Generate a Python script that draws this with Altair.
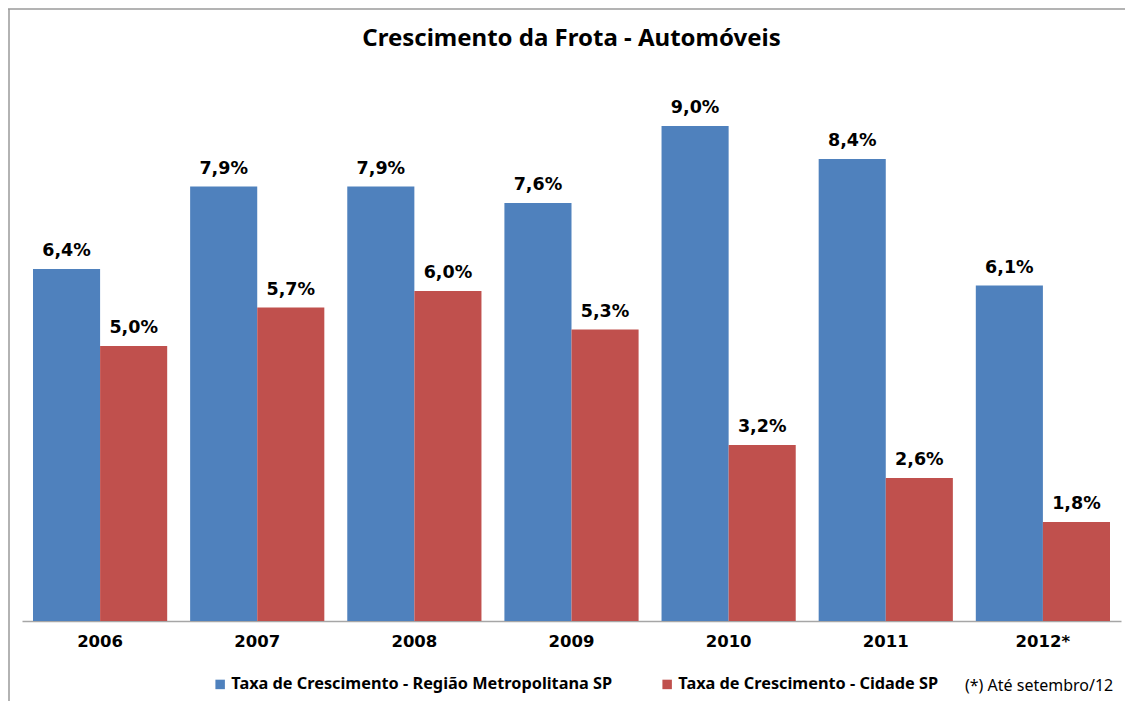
import altair as alt
import pandas as pd

years = ["2006", "2007", "2008", "2009", "2010", "2011", "2012*"]
rm_values = [6.4, 7.9, 7.9, 7.6, 9.0, 8.4, 6.1]
city_values = [5.0, 5.7, 6.0, 5.3, 3.2, 2.6, 1.8]
series = ["Taxa de Crescimento - Região Metropolitana SP", "Taxa de Crescimento - Cidade SP"]
colors = ["#4F81BD", "#C0504D"]
title_text = "Crescimento da Frota - Automóveis"
footnote = "(*) Até setembro/12"

rows = []
for y, a, b in zip(years, rm_values, city_values):
    rows.append({"year": y, "series": series[0], "value": a, "label": f"{a:.1f}%".replace(".", ",")})
    rows.append({"year": y, "series": series[1], "value": b, "label": f"{b:.1f}%".replace(".", ",")})
df = pd.DataFrame(rows)

W, H = 1099, 550
PL, PT = 14, 63

x_enc = alt.X("year:N", sort=years,
              scale=alt.Scale(paddingInner=0.146, paddingOuter=0.07),
              axis=alt.Axis(title=None, labelAngle=0, labelFont="DejaVu Sans", labelFontWeight="bold",
                            labelFontSize=16.5, labelColor="#000000", labelPadding=12, ticks=False,
                            domainColor="#A6A6A6", domainWidth=1.5))
xo = alt.XOffset("series:N", sort=series)
y_enc = alt.Y("value:Q", scale=alt.Scale(domain=[0, 10]), axis=None)

base = alt.Chart(df)

bars = base.mark_bar().encode(
    x=x_enc, xOffset=xo, y=y_enc,
    color=alt.Color("series:N", sort=series,
                    scale=alt.Scale(domain=series, range=colors),
                    legend=alt.Legend(title=None, orient="none", direction="horizontal",
                                      legendX=190, legendY=605, symbolType="square",
                                      symbolSize=90, symbolStrokeWidth=0, columnPadding=46,
                                      labelFont="Noto Sans", labelFontWeight="bold", labelFontSize=16.3,
                                      labelColor="#000000", labelOffset=3, labelLimit=600)),
)

labels = base.mark_text(baseline="alphabetic", dy=-13, font="DejaVu Sans", fontWeight="bold",
                        fontSize=17.5, color="#000000").encode(
    x=x_enc, xOffset=xo, y=y_enc, text="label:N")

one = alt.Data(values=[{"k": 1}])
top_rule = alt.Chart(one).mark_rule(color="#9A9A9A", strokeWidth=1.5).encode(
    x=alt.value(-PL), x2=alt.value(W + 20), y=alt.value(-62))
left_rule = alt.Chart(one).mark_rule(color="#9A9A9A", strokeWidth=1.5).encode(
    x=alt.value(-PL + 1), y=alt.value(-62), y2=alt.value(H + 90))

title = alt.Chart(alt.Data(values=[{"t": title_text}])).mark_text(
    align="center", baseline="middle", font="Noto Sans", fontSize=24, fontWeight="bold",
    color="#000000").encode(x=alt.value(W / 2), y=alt.value(-32), text="t:N")

note = alt.Chart(alt.Data(values=[{"t": footnote}])).mark_text(
    align="left", baseline="middle", font="Noto Sans", fontSize=16, color="#000000").encode(
    x=alt.value(943), y=alt.value(615), text="t:N")

chart = alt.layer(bars, labels, top_rule, left_rule, title, note).properties(
    width=W, height=H,
    autosize="none",
    background="white",
    padding={"left": PL, "top": PT, "right": 4, "bottom": 80},
).configure_view(strokeWidth=0, stroke="transparent")

chart.save("out.html", embed_options={"renderer": "svg", "actions": False})
